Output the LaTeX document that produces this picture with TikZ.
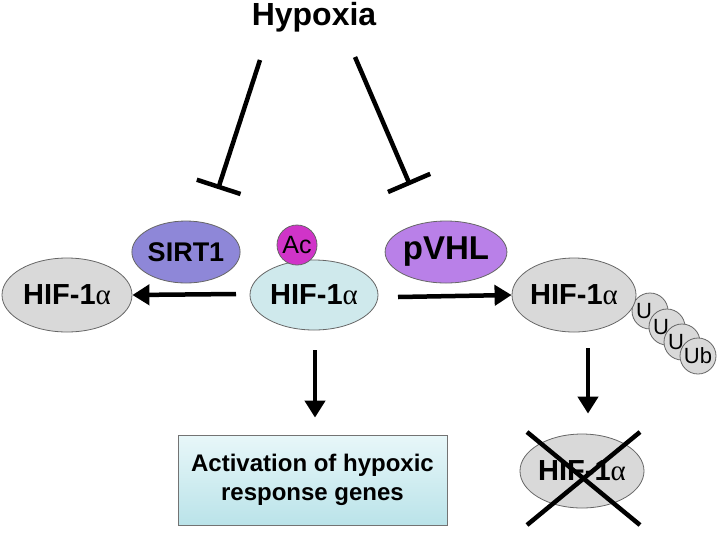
\documentclass[tikz,border=0pt]{standalone}
\usepackage{fontspec}
\setmainfont{Liberation Sans}
\newfontfamily\grk{Liberation Serif}
\usetikzlibrary{shapes.geometric,arrows.meta,calc}
\definecolor{hifgray}{RGB}{217,217,217}
\definecolor{hifcyan}{RGB}{207,233,236}
\definecolor{sirtc}{RGB}{142,135,216}
\definecolor{vhlc}{RGB}{185,128,232}
\definecolor{acc}{RGB}{208,52,200}
\definecolor{boxtop}{RGB}{232,247,249}
\definecolor{boxbot}{RGB}{186,227,233}
\newcommand{\hifa}{HIF-1{\grk\mdseries α}}
\begin{document}
\begin{tikzpicture}[x=1pt,y=-1pt,
  prot/.style={ellipse, draw=black!60, line width=0.8pt, inner sep=0pt,
    font=\fontsize{29}{31}\selectfont\bfseries},
  small/.style={circle, draw=black!60, line width=0.8pt, inner sep=0pt},
  act/.style={line width=4.5pt, -{Triangle[length=17pt,width=20pt]}},
  inh/.style={line width=4.5pt, -{Bar[width=46pt]}},
  cross/.style={line width=4.5pt}]
\useasboundingbox (0,0) rectangle (720,539);

\node[font=\fontsize{32}{34}\selectfont\bfseries] (hyp) at (314,17) {Hypoxia};

% Ub chain (each circle hides most of the previous label)
\tikzset{ubc/.style={small, fill=hifgray, minimum size=36pt,
  font=\fontsize{22}{24}\selectfont},
  ubt/.style={inner sep=0pt, font=\fontsize{22}{24}\selectfont}}
\node[ubc] (ub1) at (650,311) {};
\node[ubt] (ut1) at ($(ub1.center)+(-6,0)$) {U};
\node[ubc] (ub2) at (667,327) {};
\node[ubt] (ut2) at ($(ub2.center)+(-6,0)$) {U};
\node[ubc] (ub3) at (682,342) {};
\node[ubt] (ut3) at ($(ub3.center)+(-6,0)$) {U};
\node[ubc] (ub4) at (698,356) {Ub};

\node[prot, fill=hifgray, minimum width=130pt, minimum height=74pt] (hl) at (67,295) {\hifa};
\node[prot, fill=hifcyan, minimum width=128pt, minimum height=70pt] (hc) at (314,295) {\hifa};
\node[prot, fill=hifgray, minimum width=118pt, minimum height=74pt] (hr) at (574,295) {\hifa};
\node[prot, fill=hifgray, minimum width=118pt, minimum height=74pt] (hd) at (582,471) {\hifa};

\node[prot, fill=sirtc, minimum width=96pt, minimum height=62pt,
  font=\fontsize{27}{29}\selectfont\bfseries] (sirt) at (186,252) {SIRT1};
\node[prot, fill=vhlc, minimum width=104pt, minimum height=62pt,
  font=\fontsize{33}{35}\selectfont\bfseries] (vhl) at (446,252) {pVHL};
\node[small, fill=acc, minimum size=40pt,
  font=\fontsize{25}{27}\selectfont] (ac) at (297,245) {Ac};

\node[draw=black!55, line width=0.8pt, top color=boxtop, bottom color=boxbot,
  minimum width=269pt, minimum height=90pt, align=center, inner sep=0pt,
  font=\fontsize{24}{29}\selectfont\bfseries] (box) at (312.5,480)
  {Activation of hypoxic\\response genes};

% inhibition lines
\coordinate (h1) at (260,60);
\coordinate (h2) at (355,57);
\coordinate (t1) at (218,189);
\coordinate (t2) at (410,185);
\draw[inh] (h1) -- (t1);
\draw[inh] (h2) -- (t2);

% arrows
\coordinate (al1) at (236,294);
\coordinate (ar1) at (398,297);
\coordinate (ad1) at (315,350);
\coordinate (ad2) at (588,348);
\draw[act] (al1) -- (hl.east);
\draw[act] (ar1) -- (hr.west);
\draw[act] (ad1) -- ($(box.north)+(2.5,-17)$);
\draw[act] (ad2) -- ($(hd.north)+(6,-20)$);

% cross
\coordinate (c1) at (527,432);
\coordinate (c2) at (640,525);
\coordinate (c3) at (527,525);
\coordinate (c4) at (640,432);
\draw[cross] (c1) -- (c2);
\draw[cross] (c3) -- (c4);
\end{tikzpicture}
\end{document}
